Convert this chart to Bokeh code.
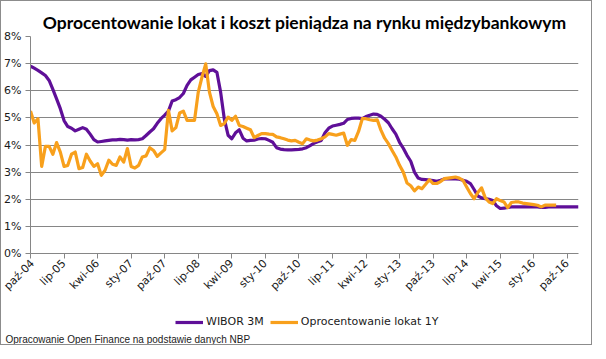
import math
from bokeh.plotting import figure
from bokeh.layouts import column
from bokeh.models import (Range1d, FixedTicker, PrintfTickFormatter, Legend, LegendItem,
                          Title, ColumnDataSource)
from bokeh.embed import file_html
from bokeh.resources import INLINE

title_text = "Oprocentowanie lokat i koszt pieniądza na rynku międzybankowym"
source_text = "Opracowanie Open Finance na podstawie danych NBP"
series_names = ["WIBOR 3M", "Oprocentowanie lokat 1Y"]

# monthly data starting Oct 2004 (month index 0)
wibor_3m = [
    6.91, 6.83, 6.75, 6.66, 6.56, 6.38, 6.05, 5.70, 5.34, 4.90, 4.68, 4.62,
    4.52, 4.58, 4.64, 4.58, 4.40, 4.20, 4.11, 4.13, 4.15, 4.17, 4.19, 4.19,
    4.21, 4.20, 4.18, 4.20, 4.19, 4.20, 4.23, 4.35, 4.48, 4.60, 4.80, 4.97,
    5.10, 5.25, 5.62, 5.67, 5.75, 5.90, 6.20, 6.40, 6.50, 6.60, 6.63, 6.53,
    6.74, 6.77, 6.68, 5.95, 4.95, 4.36, 4.23, 4.45, 4.56, 4.25, 4.15, 4.17,
    4.18, 4.22, 4.24, 4.23, 4.17, 4.10, 3.90, 3.85, 3.83, 3.82, 3.82, 3.83,
    3.84, 3.86, 3.90, 3.98, 4.06, 4.12, 4.17, 4.45, 4.62, 4.70, 4.73, 4.76,
    4.80, 4.94, 4.98, 4.99, 4.99, 4.97, 5.05, 5.10, 5.14, 5.13, 5.06, 4.95,
    4.82, 4.60, 4.40, 4.10, 3.88, 3.62, 3.40, 3.00, 2.78, 2.73, 2.72, 2.71,
    2.69, 2.66, 2.70, 2.75, 2.75, 2.75, 2.75, 2.74, 2.70, 2.66, 2.58, 2.36,
    2.12, 2.05, 2.02, 2.00, 1.95, 1.76, 1.66, 1.67, 1.70, 1.72, 1.72, 1.72,
    1.72, 1.72, 1.72, 1.72, 1.72, 1.70, 1.70, 1.72, 1.72, 1.72, 1.72, 1.72,
    1.72, 1.72, 1.72, 1.72,
]
lokaty_1y = [
    5.25, 4.81, 4.97, 3.21, 3.95, 3.95, 3.66, 4.09, 3.74, 3.21, 3.25, 3.66,
    3.74, 3.13, 3.17, 3.66, 3.41, 3.21, 3.31, 2.88, 3.07, 3.44, 3.29, 3.25,
    3.56, 3.37, 3.87, 3.21, 3.15, 3.25, 3.56, 3.60, 3.90, 3.80, 3.58, 3.71,
    3.83, 5.28, 4.52, 4.64, 5.18, 5.25, 4.91, 4.91, 4.91, 5.95, 6.50, 6.99,
    5.95, 5.42, 5.15, 4.72, 4.79, 5.03, 4.91, 5.06, 4.72, 4.68, 4.62, 4.56,
    4.27, 4.35, 4.42, 4.42, 4.40, 4.39, 4.30, 4.27, 4.23, 4.18, 4.15, 4.17,
    4.10, 4.05, 4.23, 4.18, 4.15, 4.18, 4.23, 4.30, 4.42, 4.39, 4.36, 4.40,
    4.44, 3.99, 4.20, 4.17, 4.50, 4.97, 4.97, 4.93, 4.91, 4.93, 4.55, 4.25,
    4.05, 3.80, 3.56, 3.25, 3.00, 2.60, 2.50, 2.31, 2.45, 2.39, 2.55, 2.72,
    2.58, 2.58, 2.65, 2.76, 2.78, 2.80, 2.82, 2.78, 2.70, 2.45, 2.21, 2.02,
    2.25, 2.42, 2.05, 1.90, 1.84, 2.02, 1.95, 1.90, 1.69, 1.88, 1.90, 1.90,
    1.86, 1.84, 1.82, 1.80, 1.78, 1.72, 1.78, 1.78, 1.78, 1.78,
]
tick_labels = ["paź-04", "lip-05", "kwi-06", "sty-07", "paź-07", "lip-08", "kwi-09",
               "sty-10", "paź-10", "lip-11", "kwi-12", "sty-13", "paź-13", "lip-14",
               "kwi-15", "sty-16", "paź-16"]
tick_step_months = 9
y_ticks = [0, 1, 2, 3, 4, 5, 6, 7, 8]

PURPLE = "#5f0f98"
ORANGE = "#f8a01c"
GRID = "#868686"
FONT = "DejaVu Sans"

W = 590
H1, H2 = 300, 43
BL, BR = 27, 13

p = figure(width=W, height=H1, output_backend="svg", toolbar_location=None,
           x_range=Range1d(0, len(wibor_3m) - 1), y_range=Range1d(0, 8),
           min_border_left=BL, min_border_right=BR, min_border_top=35, min_border_bottom=48)
p.outline_line_color = None
p.background_fill_color = "white"
p.border_fill_color = "white"

p.title = Title(text=title_text, align="center", text_font="Lato", text_font_style="bold",
                text_font_size="17.5px", text_color="#000000", standoff=8)

p.xgrid.grid_line_color = None
p.ygrid.grid_line_color = GRID
p.ygrid.grid_line_width = 1
p.yaxis.ticker = FixedTicker(ticks=y_ticks)
p.yaxis.formatter = PrintfTickFormatter(format="%d%%")
p.xaxis.ticker = FixedTicker(ticks=[i * tick_step_months for i in range(len(tick_labels))])
p.xaxis.major_label_overrides = {i * tick_step_months: lab for i, lab in enumerate(tick_labels)}
p.xaxis.major_label_orientation = math.pi / 4

for ax in (p.xaxis[0], p.yaxis[0]):
    ax.axis_line_color = GRID
    ax.major_tick_line_color = GRID
    ax.minor_tick_line_color = None
    ax.major_tick_in = 0
    ax.major_tick_out = 5
    ax.major_label_text_font = FONT
    ax.major_label_text_font_size = "11px"
    ax.major_label_text_color = "#1a1a1a"
p.yaxis.major_label_standoff = 4
p.xaxis.major_label_standoff = 3

src_w = ColumnDataSource(dict(x=list(range(len(wibor_3m))), y=wibor_3m))
src_o = ColumnDataSource(dict(x=list(range(len(lokaty_1y))), y=lokaty_1y))
p.line("x", "y", source=src_w, line_color=PURPLE, line_width=3.2, line_join="round")
p.line("x", "y", source=src_o, line_color=ORANGE, line_width=3.2, line_join="round")

# footer figure: legend + source note (series lie outside its view, used only for legend glyphs)
f = figure(width=W, height=H2, output_backend="svg", toolbar_location=None,
           x_range=Range1d(1000, 1001), y_range=Range1d(0, 1),
           x_axis_type=None, y_axis_type=None,
           min_border_left=BL, min_border_right=BR, min_border_top=0, min_border_bottom=0)
f.outline_line_color = None
f.xgrid.grid_line_color = None
f.ygrid.grid_line_color = None
f.border_fill_color = "white"
f.background_fill_color = "white"
lw = f.line("x", "y", source=src_w, line_color=PURPLE, line_width=3.2)
lo = f.line("x", "y", source=src_o, line_color=ORANGE, line_width=3.2)
legend = Legend(items=[LegendItem(label=series_names[0], renderers=[lw]),
                       LegendItem(label=series_names[1], renderers=[lo])],
                orientation="horizontal", location=(145, 3),
                label_text_font=FONT, label_text_font_size="11px",
                label_text_color="#1a1a1a",
                glyph_width=28, glyph_height=12, spacing=6, label_standoff=3,
                padding=2, margin=0, border_line_color=None, background_fill_alpha=0)
f.add_layout(legend, "center")
f.add_layout(Title(text=source_text, align="left", text_font="Liberation Sans",
                   text_font_style="normal", text_font_size="10px", text_color="#1a1a1a",
                   offset=-25, standoff=0), "below")

layout = column(p, f, spacing=0)
layout.styles = {"border": "1px solid #8c8c8c", "box-sizing": "border-box"}

open("out.html", "w").write(file_html(layout, INLINE))
